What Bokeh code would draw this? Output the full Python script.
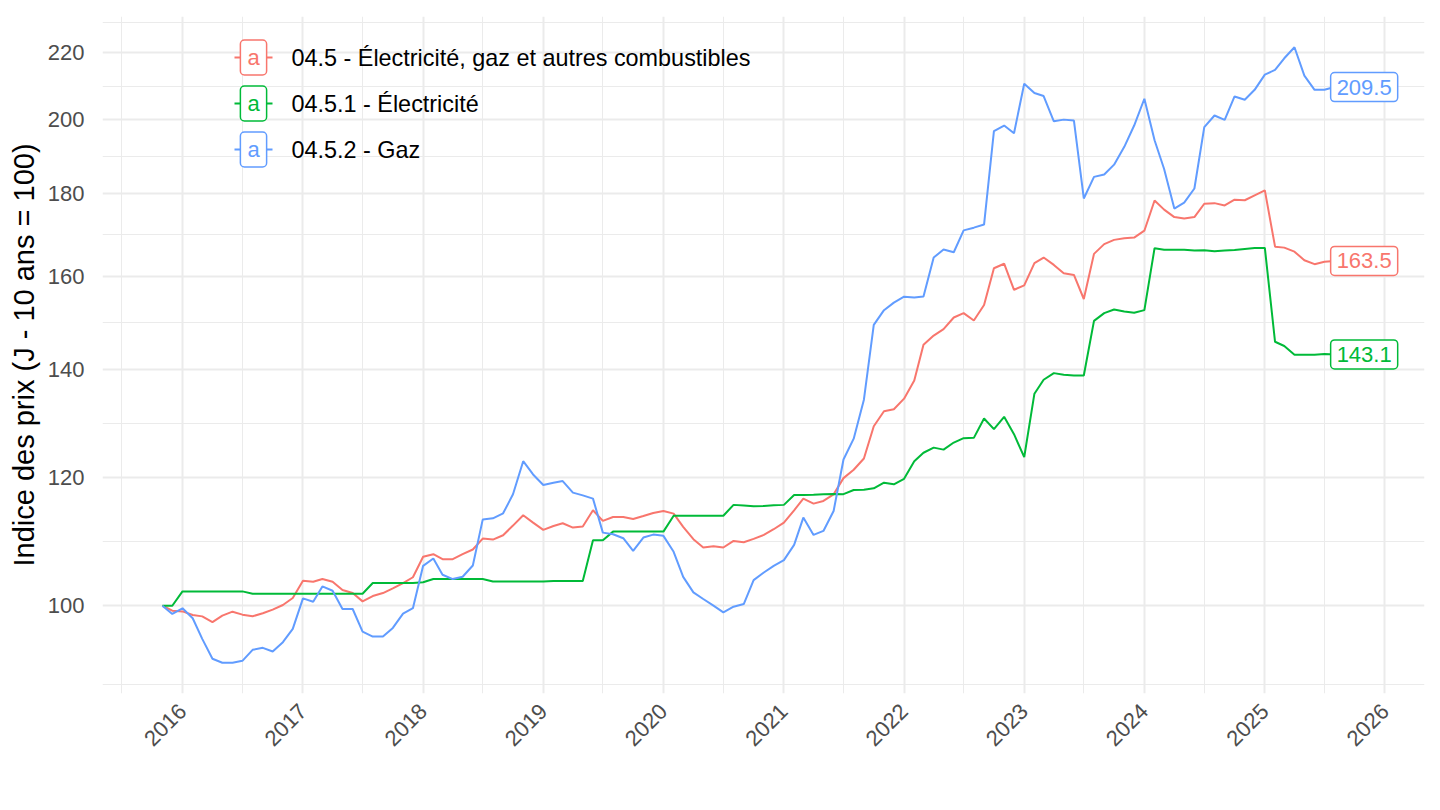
import math
import pandas as pd
from bokeh.plotting import figure
from bokeh.models import Range1d, FixedTicker, DatetimeTickFormatter, LinearScale
from bokeh.core.properties import value
from bokeh.embed import file_html
from bokeh.resources import INLINE

# ---------------- data ----------------
dates = pd.date_range("2015-11-01", "2025-08-01", freq="MS")

series_names = [
    "04.5 - Électricité, gaz et autres combustibles",
    "04.5.1 - Électricité",
    "04.5.2 - Gaz",
]
colors = ["#F8766D", "#00BA38", "#619CFF"]

elec_gaz = [
    100.0, 99.3,
    99.2, 98.7, 98.5, 97.7, 98.6, 99.16, 98.74, 98.51, 98.93, 99.45, 100.11, 101.11,
    103.63, 103.48, 103.88, 103.48, 102.27, 101.83, 100.63, 101.4, 101.83, 102.51, 103.29, 104.15,
    107.23, 107.63, 106.87, 106.87, 107.63, 108.35, 110.05, 109.9, 110.58, 112.11, 113.77, 112.59,
    111.43, 112.05, 112.48, 111.79, 111.95, 114.58, 112.86, 113.5, 113.5, 113.18, 113.66, 114.15,
    114.47, 114.04, 111.91, 109.95, 108.66, 108.87, 108.66, 109.69, 109.48, 110.0, 110.63, 111.53,
    112.59, 114.58, 116.5, 115.68, 116.12, 117.22, 119.96, 121.4, 123.37, 129.17, 131.96, 132.34,
    134.35, 137.87, 145.06, 147.0, 148.34, 150.83, 151.77, 150.18, 153.53, 161.8, 162.85, 156.91,
    157.9, 163.0, 164.29, 162.57, 160.65, 160.27, 154.86, 165.15, 167.46, 168.48, 168.87, 169.03,
    170.7, 178.2, 175.9, 174.04, 173.71, 174.04, 177.38, 177.54, 176.96, 178.43, 178.27, 179.54,
    180.8, 166.86, 166.63, 165.68, 163.66, 162.74, 163.3, 163.5,
]

elec = [
    100.0, 100.0,
    102.07, 102.07, 102.07, 102.07, 102.07, 102.07, 102.07, 101.73, 101.73, 101.73, 101.73, 101.73,
    101.73, 101.73, 101.73, 101.73, 101.73, 101.73, 101.73, 103.3, 103.3, 103.3, 103.3, 103.3,
    103.4, 103.88, 103.88, 103.88, 103.88, 103.88, 103.88, 103.53, 103.53, 103.53, 103.53, 103.53,
    103.53, 103.58, 103.58, 103.58, 103.58, 109.8, 109.8, 111.15, 111.15, 111.15, 111.15, 111.15,
    111.15, 113.7, 113.7, 113.7, 113.7, 113.7, 113.7, 115.47, 115.36, 115.25, 115.3, 115.41,
    115.47, 117.1, 117.1, 117.16, 117.22, 117.27, 117.25, 117.95, 118.0, 118.22, 119.18, 118.9,
    119.85, 122.89, 124.38, 125.29, 124.93, 126.2, 126.99, 127.05, 130.61, 128.63, 130.91, 127.71,
    123.59, 135.3, 138.02, 139.33, 139.0, 138.87, 138.87, 150.1, 151.77, 152.56, 152.13, 151.84,
    152.42, 166.5, 166.1, 166.1, 166.1, 165.93, 166.01, 165.77, 165.93, 166.09, 166.33, 166.56,
    166.56, 145.7, 144.83, 143.05, 143.05, 143.05, 143.2, 143.1,
]

gaz = [
    100.0, 98.84,
    99.64, 98.23, 95.39, 92.72, 92.2, 92.2, 92.45, 93.91, 94.18, 93.69, 94.94, 96.75,
    101.06, 100.58, 102.8, 102.17, 99.54, 99.54, 96.39, 95.7, 95.7, 96.89, 98.88, 99.66,
    105.86, 106.98, 104.52, 103.88, 104.22, 105.91, 113.07, 113.28, 114.09, 117.22, 122.89, 120.59,
    118.79, 119.18, 119.46, 117.5, 117.05, 116.5, 110.99, 110.74, 110.11, 108.14, 110.21, 110.68,
    110.48, 108.0, 104.2, 101.93, 100.97, 100.01, 99.07, 99.87, 100.25, 103.73, 104.86, 105.86,
    106.72, 109.07, 113.4, 110.63, 111.26, 114.47, 123.19, 126.9, 134.16, 149.24, 152.41, 154.07,
    155.37, 155.19, 155.42, 164.29, 166.17, 165.54, 170.78, 171.44, 172.2, 196.72, 198.31, 196.16,
    210.49, 207.71, 206.82, 199.52, 199.99, 199.71, 178.72, 184.31, 184.92, 187.56, 192.37, 198.31,
    206.03, 194.21, 186.4, 176.18, 177.69, 181.29, 197.84, 201.16, 199.92, 206.71, 205.73, 208.67,
    213.24, 214.67, 218.27, 221.72, 212.94, 208.67, 208.67, 209.5,
]

y_major = [100, 120, 140, 160, 180, 200, 220]
x_years = list(range(2016, 2027))
x_start, x_end = "2015-05-03", "2026-05-01"

series = [elec_gaz, elec, gaz]

# ---------------- ranges & ticks ----------------
allv = elec_gaz + elec + gaz
lmin, lmax = math.log(min(allv)), math.log(max(allv))
pad = 0.05 * (lmax - lmin)
y_range = Range1d(math.exp(lmin - pad), math.exp(lmax + pad))
x_range = Range1d(pd.Timestamp(x_start), pd.Timestamp(x_end))

ext = [y_major[0] - 20] + y_major + [y_major[-1] + 20]
y_minor = [math.sqrt(a * b) for a, b in zip(ext[:-1], ext[1:])]

def ms(ts):
    return pd.Timestamp(ts).value / 1e6

x_major = [ms(f"{y}-01-01") for y in x_years]
x_minor = [ms(f"{y}-07-01") for y in range(x_years[0] - 1, x_years[-1])]

FW, FH = 1322, 677
p = figure(
    frame_width=FW, frame_height=FH,
    x_axis_type="datetime", y_axis_type="log",
    x_range=x_range, y_range=y_range,
    output_backend="svg", toolbar_location=None,
    min_border_left=102, min_border_right=4, min_border_top=16, min_border_bottom=96,
)
p.outline_line_color = None
p.background_fill_color = "white"
p.border_fill_color = "white"

p.extra_x_ranges = {"px": Range1d(0, FW)}
p.extra_y_ranges = {"py": Range1d(FH, 0)}
p.extra_x_scales = {"px": LinearScale()}
p.extra_y_scales = {"py": LinearScale()}

FONT = "Liberation Sans"

# axes
p.yaxis.ticker = FixedTicker(ticks=y_major, minor_ticks=y_minor)
p.xaxis.ticker = FixedTicker(ticks=x_major, minor_ticks=x_minor)
p.xaxis.formatter = DatetimeTickFormatter(years="%Y", months="%Y", days="%Y")
for ax in (p.xaxis, p.yaxis):
    ax.axis_line_color = None
    ax.major_tick_line_color = None
    ax.minor_tick_line_color = None
    ax.major_label_text_font = FONT
    ax.major_label_text_font_size = "22px"
    ax.major_label_text_color = "#4D4D4D"
p.yaxis.major_label_standoff = 12
p.xaxis.major_label_standoff = 8
p.xaxis.major_label_orientation = math.pi / 4
p.yaxis.axis_label = "Indice des prix (J - 10 ans = 100)"
p.yaxis.axis_label_text_font = FONT
p.yaxis.axis_label_text_font_size = "29px"
p.yaxis.axis_label_text_font_style = "normal"
p.yaxis.axis_label_text_color = "black"
p.yaxis.axis_label_standoff = 5

# grid
for g in (p.xgrid, p.ygrid):
    g.grid_line_color = "#EBEBEB"
    g.grid_line_width = 2
    g.minor_grid_line_color = "#EBEBEB"
    g.minor_grid_line_width = 1

# lines
for vals, col in zip(series, colors):
    p.line(dates, vals, line_color=col, line_width=2)

# end labels
for vals, col in zip(series, colors):
    p.text(x=[dates[-1]], y=[vals[-1]], text=[f"{vals[-1]:.1f}"],
           x_offset=-4, text_align="left", text_baseline="middle",
           text_font=value(FONT), text_font_size="22px", text_color=col,
           background_fill_color="white", border_line_color=col,
           border_line_width=1.5, border_radius=4,
           padding={"left": 6, "right": 6, "top": 7, "bottom": 7})

# legend (frame pixel coordinates)
leg_y = [41, 87, 133]
for yy, col, name in zip(leg_y, colors, series_names):
    p.segment(x0=[132], y0=[yy], x1=[170], y1=[yy], line_color=col, line_width=2,
              x_range_name="px", y_range_name="py")
    p.text(x=[151], y=[yy], text=["a"], text_align="center", text_baseline="middle",
           text_font=value(FONT), text_font_size="22px", text_color=col,
           background_fill_color="white", border_line_color=col,
           border_line_width=1.5, border_radius=4,
           padding={"left": 7, "right": 7, "top": 5, "bottom": 5},
           x_range_name="px", y_range_name="py")
    p.text(x=[189], y=[yy], text=[name], text_align="left", text_baseline="middle",
           text_font=value(FONT), text_font_size="23.4px", text_color="black",
           x_range_name="px", y_range_name="py")

open("out.html", "w").write(file_html(p, INLINE))
